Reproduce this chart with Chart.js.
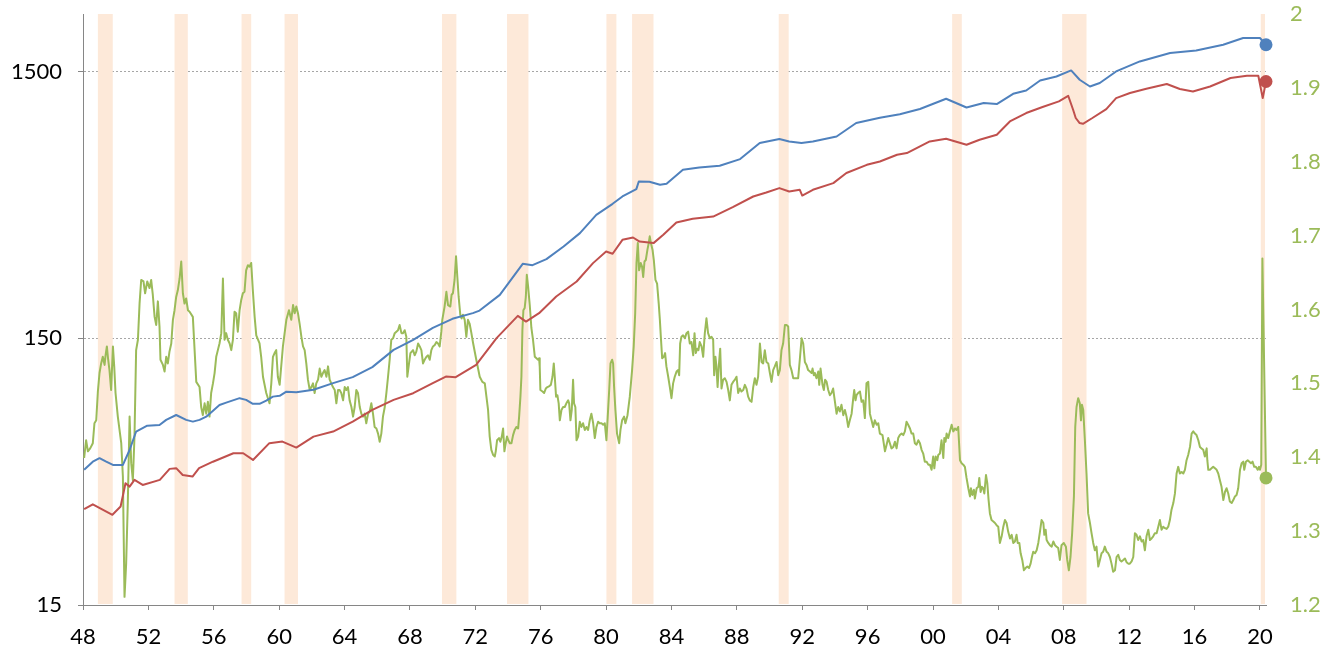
<!DOCTYPE html>
<html>
<head>
<meta charset="utf-8">
<script src="https://cdn.jsdelivr.net/npm/chart.js@4/dist/chart.umd.min.js"></script>
<style>
html,body{margin:0;padding:0;background:#fff;}
#wrap{width:1338px;height:652px;position:relative;}
</style>
</head>
<body>
<div id="wrap"><canvas id="c" width="1338" height="652"></canvas></div>
<script>
// ---- axis ticks ----
const xTickYears = [1948,1952,1956,1960,1964,1968,1972,1976,1980,1984,1988,1992,1996,2000,2004,2008,2012,2016,2020];
const xTickLabels = ['48','52','56','60','64','68','72','76','80','84','88','92','96','00','04','08','12','16','20'];
const leftTicks = [15,150,1500];
const rightTicks = [1.2,1.3,1.4,1.5,1.6,1.7,1.8,1.9,2];

// ---- recession bands ----
const recessionStarts = [1948.91,1953.60,1957.70,1960.33,1969.96,1973.94,1980.02,1981.59,1990.56,2001.17,2007.90,2020.05];
const recessionEnds   = [1949.82,1954.41,1958.29,1961.15,1970.84,1975.25,1980.63,1982.90,1991.17,2001.76,2009.39,2020.31];

// ---- blue series (left log axis) ----
const blueYears = [1948.07,1948.60,1949.01,1949.42,1949.83,1950.44,1950.85,1951.25,1951.93,1952.68,1953.09,1953.70,1954.31,1954.72,1955.13,1955.54,1956.35,1956.76,1957.58,1957.98,1958.39,1958.80,1959.21,1959.62,1960.03,1960.44,1961.05,1962.1,1963.3,1964.5,1965.7,1967.0,1968.2,1969.4,1970.6,1971.85,1972.26,1973.5,1974.9,1975.5,1976.35,1977.4,1978.4,1979.4,1980.4,1981.0,1981.85,1982.0,1982.65,1983.3,1983.7,1984.7,1985.7,1986.95,1988.2,1989.4,1990.6,1991.2,1991.95,1992.65,1994.1,1995.3,1996.75,1997.97,1999.2,2000.8,2002.05,2003.1,2003.9,2004.9,2005.7,2006.55,2007.55,2008.45,2008.97,2009.6,2010.2,2011.2,2012.65,2014.5,2016.1,2017.75,2018.97,2020.0,2020.37];
const blueValues = [48.2,51.7,53.3,51.7,50.3,50.3,57.2,67.1,70.6,71.0,74.2,77.4,74.2,73.1,74.2,76.3,84.4,86.1,89.5,88.2,85.2,85.2,87.6,90.7,91.3,94.7,94.2,96.2,101.9,107.3,117.0,135.8,148.1,164.3,177.6,186.5,190.7,218.4,285.5,282.3,297.5,331.7,372.2,435.9,479.5,510.8,544.4,581.5,579.9,565.1,569.9,643.4,656.3,666.0,705.5,810.3,838.8,821.6,810.3,821.6,857.7,963.2,1008,1039,1087,1188,1102,1145,1135,1240,1276,1391,1440,1517,1400,1321,1361,1504,1640,1764,1803,1894,2007,2007,1894];

// ---- red series (left log axis) ----
const redYears = [1948.07,1948.6,1949.8,1950.3,1950.6,1950.85,1951.15,1951.65,1952.7,1953.3,1953.7,1954.1,1954.7,1955.1,1955.95,1957.2,1957.8,1958.4,1959.4,1960.2,1961.05,1962.1,1963.3,1964.5,1965.7,1967.0,1968.2,1969.4,1970.2,1970.8,1972.05,1973.3,1974.6,1975.1,1975.9,1976.95,1978.2,1979.2,1980.0,1980.4,1981.0,1981.65,1982.05,1982.9,1983.5,1984.3,1985.3,1986.55,1987.75,1989.0,1989.8,1990.6,1991.2,1991.85,1992.0,1992.65,1993.9,1994.7,1995.95,1996.75,1997.8,1998.4,1999.8,2000.8,2002.05,2002.85,2003.9,2004.7,2005.7,2006.7,2007.7,2008.27,2008.57,2008.73,2008.97,2009.17,2009.75,2010.6,2011.2,2012.05,2013.05,2014.3,2015.1,2015.9,2016.95,2018.2,2019.2,2019.9,2020.17,2020.37];
const redValues = [34.3,35.8,32.7,35.1,42.9,41.7,44.2,42.3,44.2,48.6,48.9,46.1,45.5,48.9,51.7,55.6,55.6,52.5,60.7,61.5,58.4,64.2,67.1,73.1,80.9,88.2,93.4,101.9,107.9,107.3,119.3,150.3,182.2,173.4,186.5,215.3,245.1,287.3,317.6,311.4,351.3,358.4,346.2,341.5,366.8,408.0,421.2,429.6,466.1,510.8,528.7,549.1,533.3,541.2,515.1,541.2,573.4,625.4,671.5,691.1,732.5,743.2,821.6,840.9,798.4,833.6,870.3,976.5,1050,1106,1161,1219,1080,1006,963,957,1006,1087,1195,1248,1295,1349,1292,1265,1321,1421,1449,1449,1195,1379];

// ---- green series (right axis) ----
const greenYears = [1948.07,1948.19,1948.30,1948.44,1948.60,1948.70,1948.81,1948.91,1949.01,1949.11,1949.21,1949.32,1949.38,1949.46,1949.54,1949.62,1949.72,1949.83,1949.91,1949.99,1950.13,1950.34,1950.44,1950.54,1950.64,1950.74,1950.85,1950.95,1951.05,1951.15,1951.25,1951.36,1951.46,1951.56,1951.70,1951.80,1951.93,1952.07,1952.17,1952.27,1952.38,1952.48,1952.58,1952.68,1952.74,1952.89,1952.99,1953.09,1953.19,1953.29,1953.40,1953.50,1953.60,1953.70,1953.80,1953.91,1954.01,1954.11,1954.21,1954.31,1954.42,1954.52,1954.72,1954.93,1955.13,1955.23,1955.33,1955.44,1955.54,1955.64,1955.74,1955.84,1955.95,1956.05,1956.15,1956.25,1956.35,1956.46,1956.56,1956.66,1956.76,1956.86,1956.97,1957.07,1957.17,1957.27,1957.37,1957.47,1957.58,1957.68,1957.78,1957.88,1957.98,1958.09,1958.19,1958.29,1958.39,1958.50,1958.60,1958.80,1958.90,1959.01,1959.21,1959.41,1959.52,1959.62,1959.72,1959.82,1959.92,
1960.03,1960.23,1960.44,1960.60,1960.74,1960.85,1960.95,1961.05,1961.15,1961.25,1961.36,1961.46,1961.56,1961.66,1961.76,1961.87,1961.97,1962.07,1962.17,1962.27,1962.38,1962.48,1962.58,1962.68,1962.78,1962.89,1962.99,1963.09,1963.19,1963.29,1963.40,1963.50,1963.60,1963.70,1963.80,1963.91,1964.01,1964.11,1964.21,1964.31,1964.42,1964.52,1964.62,1964.72,1964.82,1964.93,1965.03,1965.13,1965.23,1965.33,1965.44,1965.54,1965.64,1965.74,1965.84,1965.95,1966.05,1966.15,1966.25,1966.35,1966.46,1966.56,1966.66,1966.76,1966.86,1966.97,1967.07,1967.17,1967.27,1967.37,1967.48,1967.58,1967.68,1967.78,1967.84,1967.92,1968.03,1968.19,1968.29,1968.39,1968.50,1968.60,1968.70,1968.80,1968.90,1969.01,1969.11,1969.21,1969.31,1969.41,1969.52,1969.62,1969.72,1969.82,1969.92,1969.98,1970.12,1970.23,1970.33,1970.47,1970.55,1970.63,1970.73,1970.82,1970.90,1970.98,1971.08,1971.16,1971.24,1971.35,1971.45,1971.55,1971.65,1971.76,1971.86,1972.06,
1972.27,1972.43,1972.58,1972.68,1972.78,1972.88,1972.98,1973.09,1973.19,1973.25,1973.33,1973.45,1973.53,1973.62,1973.70,1973.78,1973.86,1973.94,1974.02,1974.11,1974.21,1974.31,1974.41,1974.51,1974.62,1974.68,1974.76,1974.82,1974.88,1974.94,1975.02,1975.09,1975.15,1975.23,1975.33,1975.43,1975.53,1975.64,1975.74,1975.84,1975.90,1975.94,1975.98,1976.11,1976.21,1976.31,1976.41,1976.51,1976.62,1976.72,1976.80,1976.86,1976.94,1977.02,1977.10,1977.17,1977.27,1977.37,1977.47,1977.57,1977.68,1977.74,1977.82,1977.90,1977.98,1978.04,1978.12,1978.19,1978.29,1978.39,1978.49,1978.59,1978.70,1978.80,1978.90,1979.00,1979.10,1979.21,1979.31,1979.41,1979.51,1979.61,1979.72,1979.82,1979.92,1980.02,1980.10,1980.19,1980.27,1980.37,1980.43,1980.49,1980.57,1980.67,1980.80,1980.88,1980.98,1981.10,1981.18,1981.31,1981.45,1981.59,1981.69,1981.78,1981.86,1981.94,1982.02,1982.12,1982.20,1982.27,1982.35,1982.43,1982.53,1982.61,1982.67,1982.74,1982.84,1982.92,1983.02,1983.12,1983.22,1983.29,1983.35,1983.43,1983.53,1983.61,1983.69,1983.80,1983.90,1984.00,1984.10,1984.20,1984.31,1984.41,1984.47,
1984.53,1984.61,1984.71,1984.82,1984.92,1985.02,1985.12,1985.22,1985.33,1985.41,1985.49,1985.57,1985.65,1985.73,1985.84,1985.94,1986.04,1986.14,1986.24,1986.35,1986.45,1986.55,1986.61,1986.69,1986.75,1986.82,1986.90,1986.98,1987.06,1987.16,1987.26,1987.37,1987.47,1987.57,1987.67,1987.77,1987.88,1987.98,1988.08,1988.18,1988.28,1988.39,1988.49,1988.59,1988.69,1988.79,1988.90,1989.00,1989.10,1989.20,1989.30,1989.41,1989.51,1989.61,1989.71,1989.81,1989.92,1990.02,1990.12,1990.22,1990.32,1990.43,1990.53,1990.63,1990.73,1990.83,1990.94,1991.04,1991.14,1991.24,1991.34,1991.45,1991.55,1991.75,1991.85,1991.96,1992.06,1992.16,1992.26,1992.36,1992.47,1992.57,1992.63,1992.71,1992.77,1992.87,1992.98,1993.04,1993.12,1993.24,1993.32,1993.40,1993.49,1993.59,1993.69,1993.79,1993.89,1994.00,1994.10,1994.20,1994.30,1994.40,1994.51,1994.61,1994.71,1994.81,1994.91,1995.02,1995.12,1995.18,1995.26,1995.32,1995.42,1995.53,1995.63,1995.73,1995.83,1995.93,1996.04,1996.14,1996.24,1996.34,1996.44,1996.55,1996.65,
1996.75,1996.91,1997.06,1997.16,1997.26,1997.36,1997.46,1997.57,1997.67,1997.77,1997.87,1997.97,1998.08,1998.18,1998.28,1998.38,1998.48,1998.59,1998.69,1998.79,1998.89,1998.99,1999.10,1999.20,1999.30,1999.40,1999.50,1999.61,1999.71,1999.81,1999.91,2000.01,2000.08,2000.16,2000.26,2000.32,2000.42,2000.52,2000.63,2000.69,2000.77,2000.83,2000.93,2001.03,2001.14,2001.24,2001.34,2001.44,2001.54,2001.65,2001.75,2001.85,2001.95,2002.05,2002.16,2002.26,2002.32,2002.40,2002.50,2002.56,2002.67,2002.77,2002.83,2002.91,2002.99,2003.07,2003.14,2003.24,2003.32,2003.40,2003.48,2003.58,2003.69,2003.79,2003.89,2003.99,2004.09,2004.20,2004.30,2004.40,2004.50,2004.60,2004.71,2004.81,2004.91,2005.01,2005.11,2005.18,2005.28,2005.36,2005.46,2005.56,2005.66,2005.77,2005.87,2005.97,2006.05,2006.13,2006.24,2006.34,2006.44,2006.54,2006.64,2006.75,2006.81,2006.89,2006.95,2007.05,2007.15,2007.26,2007.36,2007.46,2007.56,2007.66,
2007.76,2007.86,2008.00,2008.13,2008.21,2008.31,2008.41,2008.51,2008.62,2008.70,2008.78,2008.88,2008.98,2009.05,2009.11,2009.19,2009.29,2009.39,2009.49,2009.60,2009.70,2009.80,2009.90,2010.00,2010.11,2010.21,2010.31,2010.41,2010.51,2010.62,2010.72,2010.82,2010.92,2011.02,2011.13,2011.23,2011.33,2011.43,2011.53,2011.64,2011.74,2011.84,2011.94,2012.04,2012.15,2012.25,2012.35,2012.45,2012.55,2012.66,2012.76,2012.86,2012.96,2013.06,2013.17,2013.27,2013.37,2013.47,2013.57,2013.68,2013.78,2013.88,2013.98,2014.08,2014.19,2014.29,2014.39,2014.49,2014.59,2014.70,2014.80,2014.90,2015.00,2015.10,2015.21,2015.31,2015.41,2015.51,2015.61,2015.72,2015.82,2015.92,2016.02,2016.12,2016.23,2016.33,2016.43,2016.53,2016.63,2016.74,2016.78,2016.84,2016.94,2017.04,2017.14,2017.25,2017.35,2017.45,2017.55,2017.65,2017.76,2017.86,2017.96,2018.06,2018.16,2018.27,2018.37,2018.47,2018.57,2018.67,2018.78,2018.88,2018.98,2019.04,2019.14,2019.25,2019.35,2019.45,2019.55,2019.65,2019.75,2019.86,2019.94,2020.00,2020.08,2020.15,2020.37];
const greenValues = [1.399,1.423,1.408,1.412,1.419,1.446,1.450,1.489,1.514,1.527,1.536,1.525,1.538,1.550,1.532,1.518,1.491,1.550,1.523,1.487,1.455,1.419,1.374,1.211,1.256,1.338,1.455,1.392,1.369,1.428,1.545,1.559,1.608,1.640,1.638,1.622,1.638,1.629,1.640,1.620,1.590,1.579,1.611,1.577,1.532,1.525,1.516,1.536,1.527,1.543,1.554,1.586,1.599,1.617,1.626,1.642,1.665,1.622,1.608,1.615,1.599,1.597,1.590,1.502,1.495,1.468,1.457,1.473,1.459,1.475,1.455,1.487,1.500,1.514,1.536,1.545,1.554,1.568,1.642,1.559,1.568,1.559,1.554,1.545,1.559,1.597,1.595,1.570,1.599,1.613,1.622,1.624,1.653,1.660,1.658,1.663,1.626,1.590,1.565,1.554,1.536,1.509,1.487,1.473,1.500,1.536,1.541,1.545,1.509,
1.498,1.550,1.586,1.599,1.586,1.606,1.595,1.604,1.595,1.581,1.563,1.550,1.545,1.527,1.505,1.491,1.495,1.500,1.487,1.500,1.505,1.520,1.509,1.514,1.518,1.509,1.523,1.505,1.500,1.495,1.491,1.473,1.491,1.491,1.487,1.477,1.495,1.491,1.495,1.477,1.468,1.455,1.468,1.491,1.487,1.468,1.459,1.455,1.459,1.446,1.459,1.462,1.473,1.459,1.441,1.439,1.432,1.421,1.432,1.455,1.468,1.487,1.509,1.532,1.559,1.561,1.568,1.570,1.572,1.579,1.568,1.568,1.572,1.563,1.509,1.523,1.541,1.545,1.538,1.543,1.554,1.550,1.545,1.527,1.532,1.536,1.538,1.532,1.545,1.550,1.552,1.556,1.554,1.550,1.570,1.586,1.604,1.624,1.606,1.604,1.620,1.622,1.640,1.672,1.644,1.617,1.593,1.588,1.593,1.586,1.563,1.586,1.581,1.568,1.555,1.532,
1.509,1.502,1.500,1.482,1.464,1.428,1.410,1.403,1.401,1.408,1.423,1.426,1.421,1.428,1.439,1.408,1.419,1.428,1.423,1.419,1.419,1.430,1.437,1.441,1.439,1.455,1.482,1.509,1.572,1.599,1.602,1.617,1.647,1.631,1.606,1.575,1.559,1.536,1.534,1.532,1.534,1.523,1.491,1.489,1.487,1.493,1.495,1.496,1.498,1.509,1.527,1.509,1.482,1.484,1.473,1.450,1.464,1.468,1.468,1.473,1.477,1.473,1.450,1.464,1.505,1.473,1.468,1.423,1.428,1.448,1.441,1.446,1.437,1.441,1.437,1.450,1.459,1.446,1.426,1.441,1.448,1.446,1.446,1.444,1.446,1.423,1.455,1.491,1.527,1.532,1.527,1.495,1.464,1.432,1.419,1.437,1.450,1.455,1.446,1.457,1.482,1.518,1.550,1.595,1.663,1.690,1.653,1.663,1.658,1.644,1.665,1.667,1.681,1.690,1.699,1.690,1.681,1.667,1.640,1.635,1.608,1.586,1.563,1.534,1.536,1.541,1.523,1.509,1.495,1.480,1.500,1.509,1.516,1.518,1.511,
1.554,1.563,1.565,1.561,1.568,1.570,1.554,1.556,1.538,1.568,1.541,1.547,1.545,1.556,1.550,1.536,1.568,1.588,1.568,1.561,1.563,1.559,1.511,1.536,1.523,1.495,1.525,1.547,1.493,1.505,1.507,1.502,1.491,1.477,1.498,1.502,1.505,1.509,1.487,1.493,1.489,1.491,1.498,1.493,1.482,1.477,1.475,1.495,1.507,1.498,1.509,1.554,1.529,1.527,1.545,1.529,1.527,1.514,1.502,1.518,1.523,1.529,1.511,1.518,1.545,1.554,1.579,1.579,1.577,1.525,1.518,1.507,1.507,1.507,1.532,1.561,1.554,1.529,1.525,1.518,1.516,1.514,1.520,1.511,1.514,1.507,1.516,1.498,1.520,1.498,1.491,1.505,1.502,1.491,1.484,1.487,1.493,1.475,1.459,1.468,1.462,1.471,1.457,1.464,1.455,1.441,1.450,1.459,1.480,1.491,1.477,1.484,1.487,1.489,1.475,1.477,1.453,1.500,1.502,1.459,1.450,1.441,1.450,1.444,1.446,
1.432,1.430,1.408,1.417,1.426,1.419,1.412,1.414,1.421,1.412,1.426,1.430,1.432,1.430,1.435,1.448,1.444,1.439,1.432,1.432,1.419,1.417,1.423,1.419,1.410,1.405,1.394,1.394,1.390,1.390,1.383,1.401,1.385,1.401,1.396,1.403,1.405,1.423,1.399,1.426,1.421,1.432,1.426,1.435,1.444,1.435,1.439,1.437,1.441,1.396,1.392,1.390,1.387,1.372,1.358,1.347,1.358,1.349,1.356,1.344,1.358,1.360,1.372,1.353,1.360,1.358,1.351,1.376,1.365,1.342,1.324,1.315,1.313,1.311,1.308,1.306,1.284,1.293,1.306,1.315,1.311,1.299,1.290,1.295,1.284,1.286,1.295,1.284,1.284,1.270,1.261,1.247,1.250,1.252,1.250,1.256,1.265,1.272,1.270,1.274,1.284,1.299,1.315,1.311,1.295,1.302,1.288,1.284,1.281,1.279,1.286,1.281,1.279,1.277,
1.261,1.281,1.284,1.279,1.261,1.247,1.265,1.297,1.347,1.441,1.468,1.480,1.473,1.450,1.471,1.464,1.423,1.378,1.324,1.311,1.297,1.284,1.274,1.279,1.252,1.261,1.270,1.272,1.279,1.272,1.270,1.265,1.256,1.245,1.247,1.265,1.268,1.261,1.259,1.261,1.263,1.258,1.256,1.256,1.259,1.265,1.297,1.295,1.288,1.293,1.286,1.288,1.274,1.293,1.302,1.288,1.290,1.293,1.297,1.297,1.306,1.315,1.302,1.306,1.304,1.303,1.306,1.315,1.329,1.338,1.351,1.378,1.387,1.378,1.380,1.378,1.383,1.396,1.403,1.414,1.432,1.435,1.432,1.430,1.423,1.414,1.412,1.410,1.401,1.412,1.396,1.383,1.383,1.385,1.387,1.385,1.383,1.378,1.369,1.360,1.342,1.353,1.358,1.351,1.340,1.338,1.342,1.347,1.349,1.358,1.383,1.392,1.394,1.383,1.394,1.396,1.394,1.392,1.394,1.387,1.387,1.383,1.387,1.383,1.390,1.669,1.372];

const xMin = 1948, xMax = 2020.37;
const FONT = {family: 'Lato, "Open Sans", sans-serif', size: 22};

function pts(xs, ys) { return xs.map((x, i) => ({x: x, y: ys[i]})); }
const lastDot = (r) => (ctx) => (ctx.dataIndex === ctx.dataset.data.length - 1 ? r : 0);

const recessionPlugin = {
  id: 'recessions',
  beforeDatasetsDraw(chart) {
    const {ctx, chartArea, scales} = chart;
    const x = scales.x;
    ctx.save();
    ctx.fillStyle = '#FDE9D9';
    recessionStarts.forEach((s, i) => {
      const x0 = x.getPixelForValue(s);
      const x1 = x.getPixelForValue(recessionEnds[i]);
      ctx.fillRect(x0, chartArea.top, x1 - x0, chartArea.bottom - chartArea.top - 1);
    });
    ctx.restore();
  }
};

function lineDs(label, xs, ys, color, axis, order) {
  return {
    label: label,
    data: pts(xs, ys),
    yAxisID: axis,
    borderColor: color,
    backgroundColor: color,
    borderWidth: 2,
    pointRadius: lastDot(6.5),
    pointHoverRadius: 0,
    pointBorderWidth: 0,
    pointBackgroundColor: color,
    tension: 0,
    borderJoinStyle: 'round',
    clip: false,
    order: order
  };
}

function noPad(s) { s.paddingTop = 0; s.paddingBottom = 0; s.paddingLeft = 0; s.paddingRight = 0; }

new Chart(document.getElementById('c'), {
  type: 'line',
  data: {
    datasets: [
      lineDs('Inventories', blueYears, blueValues, '#4F81BD', 'yL', 1),
      lineDs('Sales', redYears, redValues, '#C0504D', 'yL', 2),
      lineDs('Inventories/Sales ratio', greenYears, greenValues, '#9BBB59', 'yR', 3)
    ]
  },
  options: {
    responsive: false,
    animation: false,
    devicePixelRatio: 1,
    layout: {padding: {top: 14, left: 0, right: 0, bottom: 0}},
    plugins: {legend: {display: false}, tooltip: {enabled: false}},
    events: [],
    scales: {
      x: {
        type: 'linear', position: 'bottom', min: xMin, max: xMax,
        afterBuildTicks: (s) => { s.ticks = xTickYears.map(v => ({value: v})); },
        afterFit: (s) => { s.height = 47; noPad(s); },
        ticks: {autoSkip: false, maxRotation: 0, minRotation: 0, padding: 14, color: '#000', font: FONT,
          callback: (v, i) => xTickLabels[i]},
        grid: {drawOnChartArea: false, drawTicks: true, tickLength: 5, tickColor: '#868686', tickWidth: 1},
        border: {display: true, color: '#868686', width: 1}
      },
      yL: {
        type: 'logarithmic', position: 'left', min: 15, max: 2470,
        afterBuildTicks: (s) => { s.ticks = leftTicks.map(v => ({value: v})); },
        afterFit: (s) => { s.width = 83; noPad(s); },
        ticks: {padding: 16, color: '#000', font: FONT, callback: (v) => String(v)},
        grid: {
          drawOnChartArea: true, drawTicks: true, tickLength: 5,
          color: (c) => (c.tick && c.tick.value === 15 ? 'rgba(0,0,0,0)' : '#A6A6A6'),
          lineWidth: 1, tickColor: '#868686', tickWidth: 1, tickBorderDash: []
        },
        border: {display: true, color: '#868686', width: 1, dash: [2, 2]}
      },
      yR: {
        type: 'linear', position: 'right', min: 1.2, max: 2,
        afterBuildTicks: (s) => { s.ticks = rightTicks.map(v => ({value: v})); },
        afterFit: (s) => { s.width = 72; noPad(s); },
        ticks: {padding: 24, color: '#9BBB59', font: FONT, callback: (v) => String(v)},
        grid: {drawOnChartArea: false, drawTicks: false},
        border: {display: false}
      }
    }
  },
  plugins: [recessionPlugin]
});
</script>
</body>
</html>
